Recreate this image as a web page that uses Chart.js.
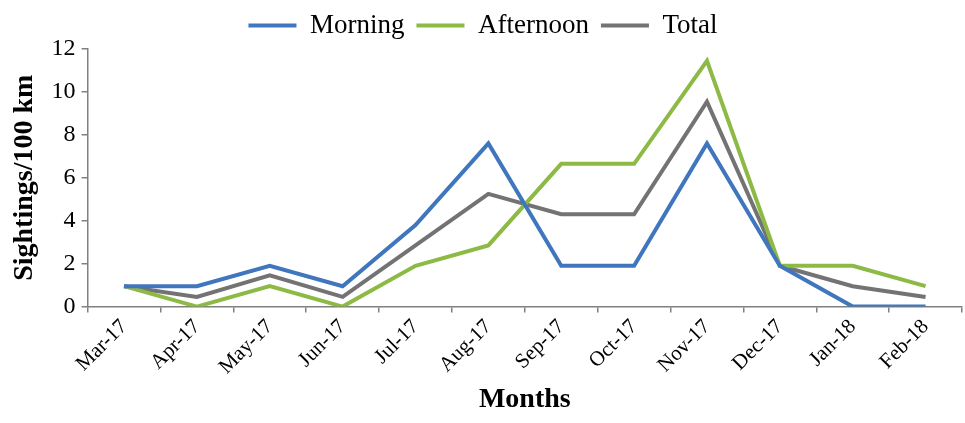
<!DOCTYPE html>
<html><head><meta charset="utf-8">
<script src="https://cdn.jsdelivr.net/npm/chart.js@4"></script>
<style>html,body{margin:0;padding:0;background:#fff}#wrap{width:965px;height:423px}</style>
</head><body><div id="wrap"><canvas id="c"></canvas></div>
<script>
const months = ["Mar-17","Apr-17","May-17","Jun-17","Jul-17","Aug-17","Sep-17","Oct-17","Nov-17","Dec-17","Jan-18","Feb-18"];
const morning = [0.95,0.95,1.9,0.95,3.8,7.6,1.9,1.9,7.6,1.9,0,0];
const afternoon = [0.95,0,0.95,0,1.9,2.85,6.65,6.65,11.45,1.9,1.9,0.95];
const total = [0.95,0.45,1.45,0.45,2.85,5.25,4.3,4.3,9.55,1.9,0.95,0.45];
const yTicks = [0,2,4,6,8,10,12];

const serif = "'Liberation Serif','Times New Roman',serif";
const ds = (label, data, color) => ({label, data, borderColor: color, backgroundColor: color, borderWidth: 4, pointRadius: 0, tension: 0, fill: false});
new Chart(document.getElementById('c'), {
  type: 'line',
  data: {labels: months, datasets: [ds('Morning', morning, '#3F76BE'), ds('Afternoon', afternoon, '#8CBA45'), ds('Total', total, '#737373')]},
  options: {
    responsive: true, maintainAspectRatio: false, animation: false,
    layout: {padding: {left: 4, right: 3, top: 0, bottom: 6}},
    plugins: {
      legend: {position: 'top', labels: {font: {family: serif, size: 27}, color: '#000', boxWidth: 48, boxHeight: 0, padding: 12,
        generateLabels: (chart) => chart.data.datasets.map((d, i) => ({text: d.label, strokeStyle: d.borderColor, fillStyle: d.borderColor, lineWidth: 4, datasetIndex: i, fontColor: '#000'}))}},
      tooltip: {enabled: false}
    },
    scales: {
      x: {offset: true,
        grid: {display: true, offset: true, drawOnChartArea: false, drawTicks: true, tickLength: 6, color: '#808080', lineWidth: 1.5},
        border: {display: true, color: '#808080', width: 1.5},
        ticks: {font: {family: serif, size: 21}, color: '#000', minRotation: 45, maxRotation: 45, padding: 2},
        title: {display: true, text: 'Months', font: {family: serif, size: 28, weight: 'bold'}, color: '#000', padding: {top: 2, bottom: 0}}
      },
      y: {min: 0, max: 12, afterBuildTicks: (s) => { s.ticks = yTicks.map(v => ({value: v})); },
        grid: {display: true, drawOnChartArea: false, drawTicks: true, tickLength: 6, color: '#808080', lineWidth: 1.5},
        border: {display: true, color: '#808080', width: 1.5},
        ticks: {font: {family: serif, size: 24}, color: '#000', padding: 6},
        title: {display: true, text: 'Sightings/100 km', font: {family: serif, size: 28, weight: 'bold'}, color: '#000', padding: {bottom: 4}}
      }
    }
  }
});
</script></body></html>
